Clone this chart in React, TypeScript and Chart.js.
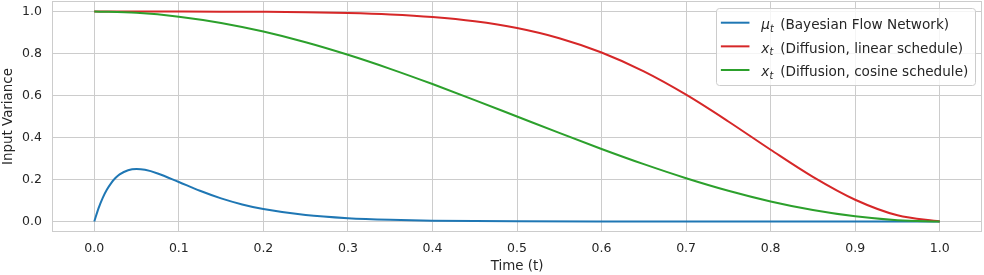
import React, { useEffect, useRef } from "react";
import { Chart, registerables } from "chart.js";

Chart.register(...registerables);

// ---- data ----
const bfnTime = [0, 0.005, 0.01, 0.015, 0.02, 0.025, 0.03, 0.04, 0.05, 0.06, 0.075, 0.1, 0.125, 0.15, 0.175, 0.2, 0.25, 0.3, 0.35, 0.4, 0.45, 0.5, 0.6, 0.7, 0.8, 0.9, 1.0];
const bfnVariance = [0, 0.0622, 0.1124, 0.1521, 0.1831, 0.2068, 0.2242, 0.2443, 0.25, 0.246, 0.2289, 0.1881, 0.1462, 0.11, 0.0812, 0.0591, 0.0306, 0.0156, 0.0079, 0.004, 0.002, 0.001, 0.00025, 0.00006, 0.00002, 0.000005, 0];

const diffTime = [0, 0.05, 0.1, 0.15, 0.2, 0.25, 0.3, 0.35, 0.4, 0.45, 0.5, 0.55, 0.6, 0.65, 0.7, 0.75, 0.8, 0.85, 0.9, 0.95, 1.0];
const linearVariance = [1.0, 0.9999, 0.9997, 0.9993, 0.9984, 0.9966, 0.9929, 0.986, 0.9738, 0.9534, 0.921, 0.8725, 0.8045, 0.7146, 0.6037, 0.4763, 0.3417, 0.2125, 0.1036, 0.0295, 0];
const cosineVariance = [1.0, 0.9938, 0.9755, 0.9455, 0.9045, 0.8536, 0.7939, 0.727, 0.6545, 0.5782, 0.5, 0.4218, 0.3455, 0.273, 0.2061, 0.1464, 0.0955, 0.0545, 0.0245, 0.0062, 0];

const xTickValues = [0, 0.1, 0.2, 0.3, 0.4, 0.5, 0.6, 0.7, 0.8, 0.9, 1.0];
const yTickValues = [0, 0.2, 0.4, 0.6, 0.8, 1.0];

const legendSymbols = ["μ", "x", "x"];
const legendLabels = ["(Bayesian Flow Network)", "(Diffusion, linear schedule)", "(Diffusion, cosine schedule)"];
const seriesColors = ["#1f77b4", "#d62728", "#2ca02c"];

const xTitle = "Time (t)";
const yTitle = "Input Variance";

const FONT = "'DejaVu Sans', sans-serif";
const TEXT = "#262626";
const GRID = "#cccccc";

const framePlugin = {
  id: "frame",
  beforeDatasetsDraw(chart: any) {
    const { ctx, chartArea } = chart;
    ctx.save();
    ctx.strokeStyle = GRID;
    ctx.lineWidth = 1;
    ctx.strokeRect(
      Math.round(chartArea.left) + 0.5,
      Math.round(chartArea.top) + 0.5,
      Math.round(chartArea.right - chartArea.left) - 1,
      Math.round(chartArea.bottom - chartArea.top) - 1
    );
    ctx.restore();
  },
};

function roundRect(ctx: CanvasRenderingContext2D, x: number, y: number, w: number, h: number, r: number) {
  ctx.beginPath();
  ctx.moveTo(x + r, y);
  ctx.lineTo(x + w - r, y);
  ctx.quadraticCurveTo(x + w, y, x + w, y + r);
  ctx.lineTo(x + w, y + h - r);
  ctx.quadraticCurveTo(x + w, y + h, x + w - r, y + h);
  ctx.lineTo(x + r, y + h);
  ctx.quadraticCurveTo(x, y + h, x, y + h - r);
  ctx.lineTo(x, y + r);
  ctx.quadraticCurveTo(x, y, x + r, y);
  ctx.closePath();
}

const legendPlugin = {
  id: "innerLegend",
  afterDraw(chart: any) {
    const { ctx, chartArea } = chart;
    const size = 13.6;
    const subSize = 9.6;
    const rowH = 23.65;
    ctx.save();
    ctx.font = `${size}px ${FONT}`;
    const maxW = Math.max(...legendLabels.map((l) => ctx.measureText(l).width));
    const textOffset = 64.3; // from box left to "(" start
    const boxW = textOffset + maxW + 7;
    const boxX = chartArea.right - 6.7 - boxW;
    const boxY = chartArea.top + 7.3;
    const boxH = 76.7;
    roundRect(ctx, Math.round(boxX) + 0.5, Math.round(boxY) + 0.5, Math.round(boxW), Math.round(boxH), 3);
    ctx.fillStyle = "rgba(255,255,255,0.8)";
    ctx.fill();
    ctx.strokeStyle = GRID;
    ctx.lineWidth = 1;
    ctx.stroke();

    legendSymbols.forEach((s, i) => {
      const cy = boxY + 14.4 + i * rowH;
      const lx = boxX + 5;
      ctx.strokeStyle = seriesColors[i];
      ctx.lineWidth = 2;
      ctx.beginPath();
      ctx.moveTo(lx, cy);
      ctx.lineTo(lx + 28.6, cy);
      ctx.stroke();
      const sx = boxX + 45.3;
      ctx.fillStyle = TEXT;
      ctx.textBaseline = "alphabetic";
      ctx.textAlign = "left";
      const base = cy + 6.2;
      ctx.font = `italic ${size}px ${FONT}`;
      ctx.fillText(s, sx, base);
      const w1 = ctx.measureText(s).width;
      ctx.font = `italic ${subSize}px ${FONT}`;
      ctx.fillText("t", sx + w1 + 0.3, base + 2.8);
      ctx.font = `${size}px ${FONT}`;
      ctx.fillText(legendLabels[i], boxX + textOffset, base);
    });
    ctx.restore();
  },
};

export default function App() {
  const canvasRef = useRef<HTMLCanvasElement | null>(null);

  useEffect(() => {
    document.body.style.margin = "0";
    const canvas = canvasRef.current;
    if (!canvas) return;
    const toPoints = (xs: number[], ys: number[]) => xs.map((x, i) => ({ x, y: ys[i] }));
    const chart = new Chart(canvas, {
      type: "line",
      data: {
        datasets: [
          {
            label: "μt " + legendLabels[0],
            data: toPoints(bfnTime, bfnVariance),
            borderColor: seriesColors[0],
            borderWidth: 2,
            pointRadius: 0,
            cubicInterpolationMode: "monotone",
            order: 2,
          },
          {
            label: "xt " + legendLabels[1],
            data: toPoints(diffTime, linearVariance),
            borderColor: seriesColors[1],
            borderWidth: 2,
            pointRadius: 0,
            cubicInterpolationMode: "monotone",
            order: 1,
          },
          {
            label: "xt " + legendLabels[2],
            data: toPoints(diffTime, cosineVariance),
            borderColor: seriesColors[2],
            borderWidth: 2,
            pointRadius: 0,
            cubicInterpolationMode: "monotone",
            order: 0,
          },
        ],
      },
      options: {
        animation: false,
        responsive: false,
        maintainAspectRatio: false,
        devicePixelRatio: 1,
        layout: { padding: { top: 1, right: 2, left: 0, bottom: 0 } },
        plugins: { legend: { display: false }, tooltip: { enabled: false } },
        scales: {
          x: {
            type: "linear",
            min: -0.05,
            max: 1.05,
            afterBuildTicks: (s: any) => {
              s.ticks = xTickValues.map((v) => ({ value: v }));
            },
            afterFit: (s: any) => {
              s.height = 43;
              s.paddingLeft = 0;
              s.paddingRight = 0;
            },
            ticks: {
              padding: 9,
              color: TEXT,
              font: { family: FONT, size: 12.5 },
              maxRotation: 0,
              autoSkip: false,
              callback: (v: any) => Number(v).toFixed(1),
            },
            grid: { color: GRID, lineWidth: 1, drawTicks: false },
            border: { display: false },
            title: {
              display: true,
              text: xTitle,
              color: TEXT,
              font: { family: FONT, size: 13.4 },
              padding: { top: 0, bottom: 0 },
            },
          },
          y: {
            type: "linear",
            min: -0.05,
            max: 1.05,
            afterBuildTicks: (s: any) => {
              s.ticks = yTickValues.map((v) => ({ value: v }));
            },
            afterFit: (s: any) => {
              s.width = 52;
              s.paddingTop = 0;
              s.paddingBottom = 0;
            },
            ticks: {
              padding: 10,
              color: TEXT,
              autoSkip: false,
              font: { family: FONT, size: 12.5 },
              callback: (v: any) => Number(v).toFixed(1),
            },
            grid: { color: GRID, lineWidth: 1, drawTicks: false },
            border: { display: false },
            title: {
              display: true,
              text: yTitle,
              color: TEXT,
              font: { family: FONT, size: 13.4 },
              padding: { top: 0, bottom: 0 },
            },
          },
        },
      },
      plugins: [framePlugin, legendPlugin],
    } as any);
    return () => chart.destroy();
  }, []);

  return (
    <div style={{ width: 984, height: 275, position: "relative" }}>
      <canvas ref={canvasRef} width={984} height={275} style={{ display: "block", width: 984, height: 275 }} />
    </div>
  );
}
